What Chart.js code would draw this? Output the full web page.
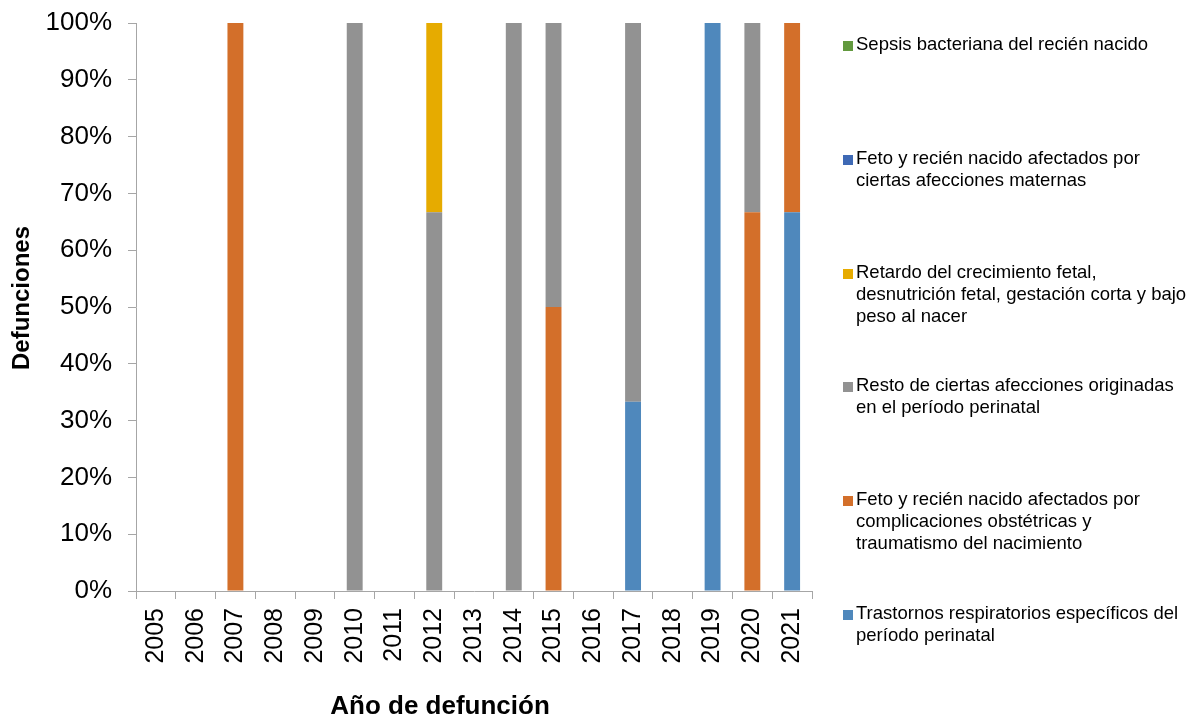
<!DOCTYPE html>
<html>
<head>
<meta charset="utf-8">
<script src="https://cdn.jsdelivr.net/npm/chart.js@4"></script>
<style>
  body { margin: 0; background: #fff; }
  #wrap { position: relative; width: 1192px; height: 719px; }
  #legend { position: absolute; left: 843px; top: 0; font-family: "Liberation Sans", Arial, sans-serif; font-size: 18.5px; line-height: 22px; color: #000; }
  .item { position: absolute; left: 0; width: 349px; padding-left: 13px; white-space: nowrap; }
  .item span.box { position: absolute; left: 0; top: 8px; width: 10px; height: 10px; }
</style>
</head>
<body>
<div id="wrap">
  <canvas id="chart" width="1192" height="719"></canvas>
  <div id="legend"></div>
</div>
<script>
// Categories and series (percent of deaths per year)
const years = ['2005','2006','2007','2008','2009','2010','2011','2012','2013','2014','2015','2016','2017','2018','2019','2020','2021'];

const trastornos   = [null,null,null,null,null,null,null,null,null,null,null,null,33.3,null,100,null,66.7];
const complicacion = [null,null,100,null,null,null,null,null,null,null,50,null,null,null,null,66.7,33.3];
const resto        = [null,null,null,null,null,100,null,66.7,null,100,50,null,66.7,null,null,33.3,null];
const retardo      = [null,null,null,null,null,null,null,33.3,null,null,null,null,null,null,null,null,null];
const maternas     = [null,null,null,null,null,null,null,null,null,null,null,null,null,null,null,null,null];
const sepsis       = [null,null,null,null,null,null,null,null,null,null,null,null,null,null,null,null,null];

const seriesNames = [
    'Trastornos respiratorios específicos del período perinatal',
    'Feto y recién nacido afectados por complicaciones obstétricas y traumatismo del nacimiento',
    'Resto de ciertas afecciones originadas en el período perinatal',
    'Retardo del crecimiento fetal, desnutrición fetal, gestación corta y bajo peso al nacer',
    'Feto y recién nacido afectados por ciertas afecciones maternas',
    'Sepsis bacteriana del recién nacido'
];
const seriesData = [trastornos, complicacion, resto, retardo, maternas, sepsis];
const colors = ['#4f88bc', '#d36f2a', '#929292', '#e6ab00', '#3e69b5', '#62993e'];

const font = '"Liberation Sans", Arial, sans-serif';
const axisColor = '#a6a6a6';
const xTitle = 'Año de defunción';
const yTitle = 'Defunciones';

// axis titles sit off the plot centre in the original, so draw them here
const titlesPlugin = {
    id: 'axisTitles',
    afterDraw(chart) {
        const c = chart.ctx;
        c.save();
        c.fillStyle = '#000';
        c.textAlign = 'center';
        c.textBaseline = 'middle';
        c.font = 'bold 26px ' + font;
        c.fillText(xTitle, 440, 707);
        c.translate(22, 298);
        c.rotate(-Math.PI / 2);
        c.font = 'bold 24px ' + font;
        c.fillText(yTitle, 0, 0);
        c.restore();
    }
};

const ctx = document.getElementById('chart').getContext('2d');
const chart = new Chart(ctx, {
    type: 'bar',
    data: {
        labels: years,
        datasets: seriesData.map((d, i) => ({
            label: seriesNames[i],
            data: d,
            backgroundColor: colors[i],
            borderWidth: 0,
            categoryPercentage: 1,
            barPercentage: 0.4
        }))
    },
    options: {
        responsive: false,
        animation: false,
        layout: { padding: { top: 23, right: 380, left: 0, bottom: 0 } },
        plugins: { legend: { display: false }, tooltip: { enabled: false } },
        scales: {
            x: {
                stacked: true,
                grid: { drawOnChartArea: false, tickLength: 8, color: axisColor, offset: true },
                border: { color: axisColor },
                ticks: { color: '#000', font: { family: font, size: 25 }, minRotation: 90, maxRotation: 90, padding: 9, autoSkip: false },
                afterFit: (scale) => { scale.height = 128; scale.paddingLeft = 0; scale.paddingRight = 0; }
            },
            y: {
                stacked: true,
                min: 0,
                max: 100,
                grid: { drawOnChartArea: false, tickLength: 8, color: axisColor },
                border: { color: axisColor },
                ticks: { stepSize: 10, color: '#000', font: { family: font, size: 26 }, padding: 16, callback: v => v + '%' },
                afterFit: (scale) => { scale.width = 136; scale.paddingTop = 0; scale.paddingBottom = 0; }
            }
        }
    },
    plugins: [titlesPlugin]
});

// Legend on the right, top entry is the last series
const wrapLines = [
    ['Sepsis bacteriana del recién nacido'],
    ['Feto y recién nacido afectados por', 'ciertas afecciones maternas'],
    ['Retardo del crecimiento fetal,', 'desnutrición fetal, gestación corta y bajo', 'peso al nacer'],
    ['Resto de ciertas afecciones originadas', 'en el período perinatal'],
    ['Feto y recién nacido afectados por', 'complicaciones obstétricas y', 'traumatismo del nacimiento'],
    ['Trastornos respiratorios específicos del', 'período perinatal']
];
const order = seriesNames.map((n, i) => i).reverse();
order.forEach((idx, k) => {
    const el = document.getElementById('legend').appendChild(document.createElement('div'));
    el.className = 'item';
    el.style.top = (33 + k * 113.8) + 'px';
    el.innerHTML = '<span class="box" style="background:' + colors[idx] + '"></span>' + wrapLines[k].join('<br>');
});
</script>
</body>
</html>
